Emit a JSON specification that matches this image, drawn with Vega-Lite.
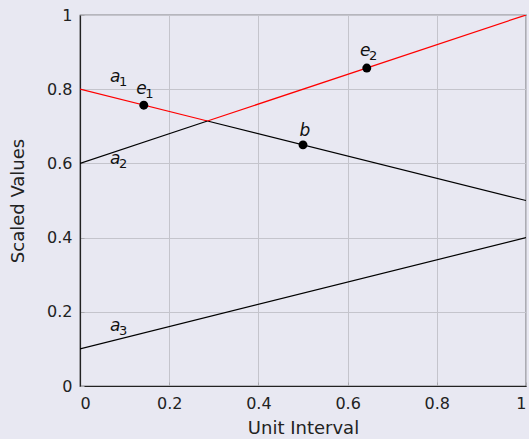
{
  "$schema": "https://vega.github.io/schema/vega-lite/v6.json",
  "width": 446,
  "height": 371,
  "autosize": {"type": "none"},
  "padding": {"left": 80, "top": 15, "right": 3, "bottom": 53},
  "background": "#e8e8f2",
  "config": {
    "view": {"stroke": "#222", "strokeWidth": 1.2, "fill": "#e8e8f2"},
    "font": "DejaVu Sans",
    "axis": {
      "gridColor": "#c4c4cc",
      "gridWidth": 1,
      "domainColor": "#222",
      "domainWidth": 1.2,
      "tickColor": "#aaaab0",
      "tickSize": -4
    }
  },
  "layer": [
    {
      "data": {"values": [
        {"x": 0, "y": 0.8, "seg": "a1r", "c": "red"},
        {"x": 0.2857, "y": 0.7143, "seg": "a1r", "c": "red"},
        {"x": 0.2857, "y": 0.7143, "seg": "a1b", "c": "black"},
        {"x": 1, "y": 0.5, "seg": "a1b", "c": "black"},
        {"x": 0, "y": 0.6, "seg": "a2b", "c": "black"},
        {"x": 0.2857, "y": 0.7143, "seg": "a2b", "c": "black"},
        {"x": 0.2857, "y": 0.7143, "seg": "a2r", "c": "red"},
        {"x": 1, "y": 1, "seg": "a2r", "c": "red"},
        {"x": 0, "y": 0.1, "seg": "a3", "c": "black"},
        {"x": 1, "y": 0.4, "seg": "a3", "c": "black"}
      ]},
      "mark": {"type": "line", "strokeWidth": 1.2, "clip": true},
      "encoding": {
        "x": {"field": "x", "type": "quantitative", "scale": {"domain": [0, 1], "nice": false},
          "axis": {"title": "Unit Interval", "values": [0, 0.2, 0.4, 0.6, 0.8, 1], "format": "~g",
            "labelFont": "DejaVu Sans", "labelFontSize": 16, "labelColor": "#222", "labelPadding": 13,
            "titleFont": "DejaVu Sans", "titleFontSize": 18, "titleFontWeight": "normal", "titleColor": "#222", "titlePadding": 8}},
        "y": {"field": "y", "type": "quantitative", "scale": {"domain": [0, 1], "nice": false},
          "axis": {"title": "Scaled Values", "values": [0, 0.2, 0.4, 0.6, 0.8, 1], "format": "~g",
            "labelFont": "DejaVu Sans", "labelFontSize": 16, "labelColor": "#222", "labelPadding": 12,
            "titleFont": "DejaVu Sans", "titleFontSize": 18, "titleFontWeight": "normal", "titleColor": "#222", "titlePadding": 19}},
        "detail": {"field": "seg"},
        "color": {"field": "c", "type": "nominal", "scale": {"domain": ["red", "black"], "range": ["#ff0000", "#000000"]}, "legend": null}
      }
    },
    {
      "data": {"values": [
        {"x": 0.143, "y": 0.757},
        {"x": 0.5, "y": 0.65},
        {"x": 0.643, "y": 0.857}
      ]},
      "mark": {"type": "point", "filled": true, "size": 80, "color": "#000", "opacity": 1},
      "encoding": {
        "x": {"field": "x", "type": "quantitative"},
        "y": {"field": "y", "type": "quantitative"}
      }
    },
    {
      "data": {"name": "labels", "values": [
        {"x": 0.067, "y": 0.833, "letter": "a", "sub": "1"},
        {"x": 0.126, "y": 0.80, "letter": "e", "sub": "1"},
        {"x": 0.067, "y": 0.612, "letter": "a", "sub": "2"},
        {"x": 0.067, "y": 0.162, "letter": "a", "sub": "3"},
        {"x": 0.492, "y": 0.687, "letter": "b", "sub": ""},
        {"x": 0.628, "y": 0.903, "letter": "e", "sub": "2"}
      ]},
      "layer": [
        {
          "mark": {"type": "text", "fontSize": 17, "fontStyle": "italic", "color": "#111", "font": "DejaVu Sans", "align": "left", "baseline": "middle"},
          "encoding": {
            "x": {"field": "x", "type": "quantitative"},
            "y": {"field": "y", "type": "quantitative"},
            "text": {"field": "letter"}
          }
        },
        {
          "mark": {"type": "text", "fontSize": 13, "color": "#111", "font": "DejaVu Sans", "align": "left", "baseline": "middle", "dx": 9, "dy": 5},
          "encoding": {
            "x": {"field": "x", "type": "quantitative"},
            "y": {"field": "y", "type": "quantitative"},
            "text": {"field": "sub"}
          }
        }
      ]
    }
  ]
}
